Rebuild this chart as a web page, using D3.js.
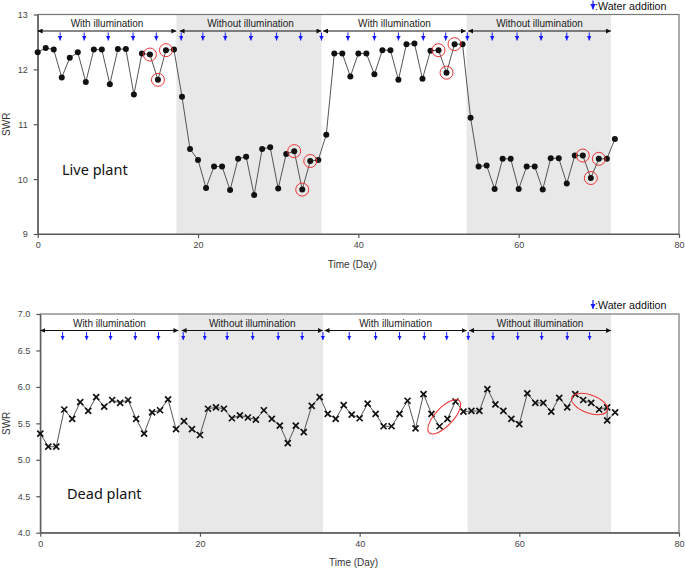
<!DOCTYPE html>
<html><head><meta charset="utf-8">
<script src="https://cdn.jsdelivr.net/npm/d3@7/dist/d3.min.js"></script>
<style>body{margin:0;background:#fff}svg{display:block}</style>
</head><body>
<svg id="c" width="685" height="569"></svg>
<script>
// ---- data ----
const liveDays = d3.range(0, 73);
const liveSWR = [12.31,12.39,12.36,11.85,12.21,12.31,11.77,12.36,12.36,11.73,12.37,12.37,11.54,12.29,12.27,11.81,12.35,12.36,
  11.50,10.55,10.35,9.84,10.23,10.23,9.80,10.37,10.41,9.71,10.55,10.58,9.83,10.46,10.51,9.81,10.33,10.35,
  10.81,12.29,12.29,11.87,12.29,12.29,11.91,12.35,12.35,11.81,12.46,12.47,11.83,12.34,12.35,11.94,12.46,12.46,
  11.12,10.23,10.25,9.82,10.37,10.37,9.82,10.23,10.23,9.81,10.38,10.38,9.92,10.43,10.43,10.02,10.37,10.37,10.73];
const liveCircled = [14,15,16,32,33,34,50,51,52,68,69,70];

const deadDays = d3.range(0, 72).concat([71, 72]);
const deadSWR = [5.36,5.18,5.18,5.69,5.56,5.79,5.67,5.86,5.73,5.82,5.78,5.82,5.56,5.36,5.65,5.68,5.83,5.42,
  5.53,5.42,5.34,5.70,5.72,5.70,5.57,5.61,5.58,5.55,5.68,5.56,5.47,5.23,5.47,5.38,5.74,5.86,
  5.63,5.56,5.75,5.62,5.57,5.77,5.63,5.46,5.46,5.63,5.81,5.43,5.90,5.63,5.46,5.56,5.80,5.66,
  5.67,5.67,5.97,5.76,5.67,5.56,5.49,5.91,5.78,5.78,5.66,5.85,5.72,5.90,5.82,5.78,5.69,5.72,5.54,5.65];
const deadEllipseDays = [50.6, 68.8];
const deadEllipseSWR = [5.59, 5.765];

const waterDays = [2.8,5.8,8.8,11.9,14.8,17.9,20.6,23.4,26.6,29.8,32.8,35.4,38.7,42.0,45.0,48.1,50.9,53.6,56.7,59.8,62.8,66.0,68.8];
const darkPeriods = [[17.3,35.4],[53.5,71.5]];
const bracketStart = [0, 17.7, 35.6, 53.7];
const bracketEnd = [17.3, 35.4, 53.4, 71.5];
const bracketLabels = ["With illumination","Without illumination","With illumination","Without illumination"];
const xTicks = [0,20,40,60,80];
const liveTicks = [9,10,11,12,13];
const deadTicks = [4.0,4.5,5.0,5.5,6.0,6.5,7.0];

// ---- drawing ----
const svg = d3.select("#c");
const defs = svg.append("defs");
defs.append("marker").attr("id","ah").attr("viewBox","0 0 10 10").attr("refX",10).attr("refY",5)
  .attr("markerWidth",5).attr("markerHeight",5).attr("orient","auto-start-reverse")
  .append("path").attr("d","M0,0L10,5L0,10Z").attr("fill","#111");
defs.append("marker").attr("id","bh").attr("viewBox","0 0 10 10").attr("refX",10).attr("refY",5)
  .attr("markerWidth",4.5).attr("markerHeight",4.5).attr("orient","auto")
  .append("path").attr("d","M0,0L10,5L0,10Z").attr("fill","#1a1aff");

function panel(o) {
  const g = svg.append("g");
  const x = d3.scaleLinear().domain([0,80]).range([o.left, o.right]);
  const y = d3.scaleLinear().domain(o.yDomain).range([o.bottom, o.top]);
  g.selectAll(".shade").data(darkPeriods).join("rect")
    .attr("x", d => x(d[0])).attr("width", d => x(d[1]) - x(d[0]))
    .attr("y", o.top).attr("height", o.bottom - o.top).attr("fill", "#e8e8e8");
  g.append("rect").attr("x", o.left).attr("y", o.top).attr("width", o.right - o.left)
    .attr("height", o.bottom - o.top).attr("fill","none").attr("stroke","#777").attr("stroke-width",1.2);
  const ax = g.append("g").attr("transform",`translate(0,${o.bottom})`)
    .call(d3.axisBottom(x).tickValues(xTicks).tickSize(4).tickSizeOuter(0).tickPadding(4));
  const ay = g.append("g").attr("transform",`translate(${o.left},0)`)
    .call(d3.axisLeft(y).tickValues(o.yTicks).tickFormat(o.fmt).tickSize(4).tickSizeOuter(0).tickPadding(6));
  [ax, ay].forEach(a => {
    a.selectAll("path,line").attr("stroke","#555").attr("stroke-width",1.2);
    a.selectAll("text").attr("font-family","'Liberation Sans', Arial, sans-serif").attr("font-size",9).attr("fill","#444");
  });
  g.append("text").attr("x", (o.left + o.right)/2 - 6).attr("y", o.bottom + 33.5)
    .attr("text-anchor","middle").attr("font-family","'Liberation Sans', Arial, sans-serif")
    .attr("font-size",10).attr("fill","#333").text("Time (Day)");
  g.append("text").attr("transform",`translate(10,${(o.top+o.bottom)/2}) rotate(-90)`)
    .attr("text-anchor","middle").attr("font-family","'Liberation Sans', Arial, sans-serif")
    .attr("font-size",10).attr("fill","#333").text("SWR");
  const by = o.top + 16.5;
  bracketStart.forEach((s,i) => {
    g.append("line").attr("x1", x(s)).attr("x2", x(bracketEnd[i])).attr("y1", by).attr("y2", by)
      .attr("stroke","#111").attr("stroke-width",1)
      .attr("marker-start","url(#ah)").attr("marker-end","url(#ah)");
    g.append("text").attr("x", (x(s)+x(bracketEnd[i]))/2).attr("y", by - 4)
      .attr("text-anchor","middle").attr("font-family","'Liberation Sans', Arial, sans-serif")
      .attr("font-size",10).attr("fill","#222").text(bracketLabels[i]);
  });
  g.selectAll(".wa").data(waterDays).join("line")
    .attr("x1", d => x(d)).attr("x2", d => x(d)).attr("y1", by + 1.5).attr("y2", by + 9.5)
    .attr("stroke","#1a1aff").attr("stroke-width",1).attr("marker-end","url(#bh)");
  const lx = 593, ly = o.top - 9;
  g.append("line").attr("x1", lx).attr("x2", lx).attr("y1", ly - 5).attr("y2", ly + 4)
    .attr("stroke","#1a1aff").attr("stroke-width",1.2).attr("marker-end","url(#bh)");
  g.append("text").attr("x", lx + 2).attr("y", ly + 4).attr("font-family","'Liberation Sans', Arial, sans-serif")
    .attr("font-size",10.7).attr("fill","#111").text(":Water addition");
  g.append("text").attr("x", o.labelX).attr("y", o.labelY).attr("font-family","'Noto Sans', sans-serif")
    .attr("font-size",14.5).attr("fill","#111").text(o.label);
  const pts = o.days.map((d,i) => [d, o.vals[i]]);
  g.append("path").datum(pts).attr("fill","none").attr("stroke","#555").attr("stroke-width",1)
    .attr("d", d3.line().x(d => x(d[0])).y(d => y(d[1])));
  return {g, x, y, pts};
}

const p1 = panel({left:37.7, right:679, top:14.5, bottom:234, yDomain:[9,13], yTicks:liveTicks,
  fmt:d3.format("d"), days:liveDays, vals:liveSWR, label:"Live plant", labelX:62, labelY:175});
p1.g.selectAll(".pt").data(p1.pts).join("circle")
  .attr("cx", d => p1.x(d[0])).attr("cy", d => p1.y(d[1])).attr("r", 3).attr("fill","#111");
p1.g.selectAll(".rc").data(liveCircled).join("circle")
  .attr("cx", d => p1.x(liveDays[d])).attr("cy", d => p1.y(liveSWR[d])).attr("r", 6.5)
  .attr("fill","none").attr("stroke","#ee3333").attr("stroke-width",1);

const p2 = panel({left:40.3, right:679, top:314, bottom:532.7, yDomain:[4,7], yTicks:deadTicks,
  fmt:d3.format(".1f"), days:deadDays, vals:deadSWR, label:"Dead plant", labelX:67, labelY:499});
const s = 3;
p2.g.selectAll(".xm").data(p2.pts).join("path")
  .attr("transform", d => `translate(${p2.x(d[0])},${p2.y(d[1])})`)
  .attr("d", `M${-s},${-s}L${s},${s}M${-s},${s}L${s},${-s}`)
  .attr("stroke","#111").attr("stroke-width",1.7).attr("fill","none");
const rot = [-47, 20], rxs = [22, 19], rys = [9, 9];
p2.g.selectAll(".el").data(deadEllipseDays).join("ellipse")
  .attr("transform", (d,i) => `translate(${p2.x(d)},${p2.y(deadEllipseSWR[i])}) rotate(${rot[i]})`)
  .attr("rx", (d,i) => rxs[i]).attr("ry", (d,i) => rys[i])
  .attr("fill","none").attr("stroke","#ee3333").attr("stroke-width",1);
</script>
</body></html>
